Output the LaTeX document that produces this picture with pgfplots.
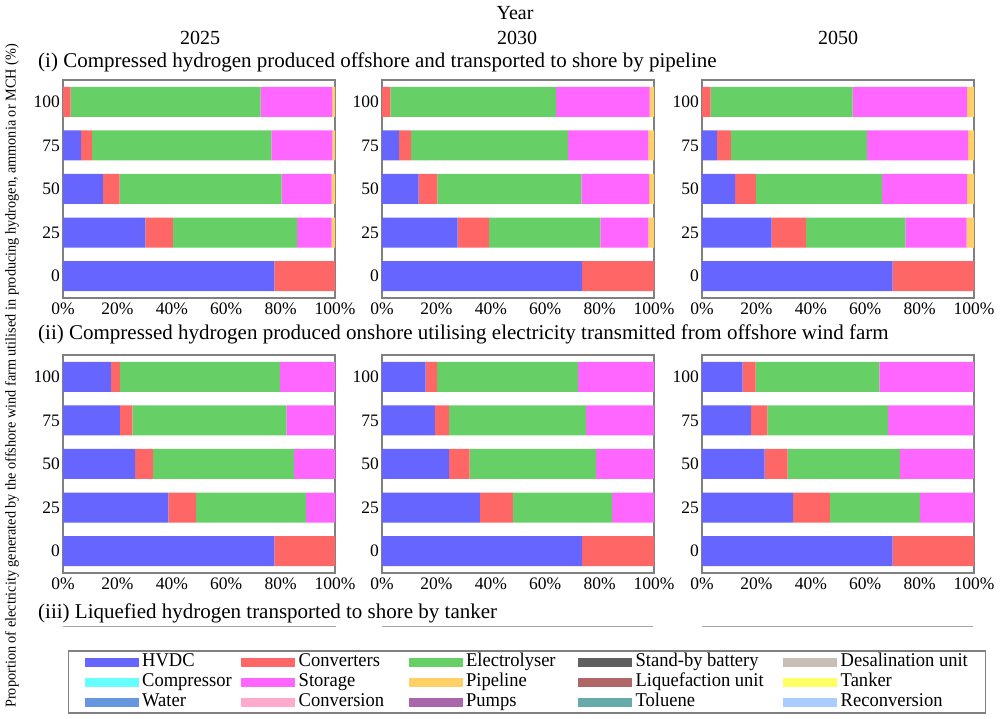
\documentclass[border=0pt]{standalone}
\usepackage{fontspec}
\setmainfont{Liberation Serif}
\newfontfamily\narrowfont[FakeStretch=0.95]{Liberation Serif}
\usepackage{pgfplots}
\usepackage{pgfplotstable}
\pgfplotsset{compat=1.18}

\definecolor{hvdc}{RGB}{102,102,255}
\definecolor{conv}{RGB}{255,102,102}
\definecolor{elec}{RGB}{102,208,102}
\definecolor{batt}{RGB}{96,96,96}
\definecolor{desal}{RGB}{200,190,184}
\definecolor{comp}{RGB}{102,255,255}
\definecolor{stor}{RGB}{255,102,255}
\definecolor{pipe}{RGB}{255,208,102}
\definecolor{liq}{RGB}{176,102,102}
\definecolor{tank}{RGB}{255,255,102}
\definecolor{water}{RGB}{102,150,221}
\definecolor{conversion}{RGB}{255,170,204}
\definecolor{pumps}{RGB}{170,102,170}
\definecolor{tol}{RGB}{102,170,170}
\definecolor{recon}{RGB}{170,204,255}
\definecolor{frame}{RGB}{128,128,128}

\newcommand\ticksize{\fontsize{17.5}{20}\selectfont}
\newcommand\ttlsize{\fontsize{21}{24}\selectfont}
\newcommand\yearsize{\fontsize{20}{22}\selectfont}
\newcommand\legsize{\narrowfont\fontsize{19.5}{20}\selectfont}
\newcommand\ylabsize{\narrowfont\fontsize{15}{16}\selectfont}

% columns: y (0=0%,1=25%,2=50%,3=75%,4=100%), HVDC, Converters, Electrolyser, Storage, Pipeline
\pgfplotstableread{
y H C E S P
0 77.7 22.3 0 0 0
1 30.3 10.1 45.7 12.7 1.2
2 14.7 6.1 59.6 18.4 1.2
3 6.7 4.0 65.9 22.4 1.0
4 0 2.8 69.9 26.3 1.0
}\Aone
\pgfplotstableread{
y H C E S P
0 73.6 26.4 0 0 0
1 27.8 11.6 40.9 17.6 2.1
2 13.5 6.9 52.9 24.9 1.8
3 6.2 4.5 57.6 29.6 2.1
4 0 3.1 60.9 34.4 1.6
}\Atwo
\pgfplotstableread{
y H C E S P
0 70.1 29.9 0 0 0
1 25.6 12.7 36.5 22.5 2.7
2 12.2 7.6 46.4 31.3 2.5
3 5.5 5.1 50.0 37.2 2.2
4 0 3.2 52.2 42.1 2.5
}\Athree
\pgfplotstableread{
y H C E S P
0 77.7 22.3 0 0 0
1 38.7 10.2 40.4 10.7 0
2 26.5 6.6 51.8 15.1 0
3 20.9 4.6 56.6 17.9 0
4 17.6 3.3 58.8 20.3 0
}\Bone
\pgfplotstableread{
y H C E S P
0 73.6 26.4 0 0 0
1 36.0 12.1 36.5 15.4 0
2 24.7 7.5 46.5 21.3 0
3 19.4 5.3 50.3 25.0 0
4 16.0 4.3 51.8 27.9 0
}\Btwo
\pgfplotstableread{
y H C E S P
0 70.1 29.9 0 0 0
1 33.5 13.5 33.1 19.9 0
2 23.0 8.5 41.2 27.3 0
3 18.0 6.0 44.4 31.6 0
4 14.9 4.8 45.5 34.8 0
}\Bthree

\pgfplotsset{
  panel/.style={
    xbar stacked, bar width=30pt,
    scale only axis, width=272pt, height=218pt,
    anchor=north west,
    xmin=0, xmax=100, ymin=-0.5, ymax=4.5,
    ytick={0,1,2,3,4}, yticklabels={0,25,50,75,100},
    xtick={0,20,40,60,80,100},
    xticklabels={0\%,20\%,40\%,60\%,80\%,100\%},
    major tick length=0pt,
    tick label style={font=\ticksize},
    yticklabel style={inner sep=3pt},
    xticklabel style={inner sep=2pt, yshift=-3pt},
    axis line style={draw=frame, line width=1.3pt},
    every axis plot/.append style={draw=none},
  },
}
\newcommand\bars[1]{%
  \addplot[fill=hvdc] table[x=H,y=y]{#1};
  \addplot[fill=conv] table[x=C,y=y]{#1};
  \addplot[fill=elec] table[x=E,y=y]{#1};
  \addplot[fill=stor] table[x=S,y=y]{#1};
  \addplot[fill=pipe] table[x=P,y=y]{#1};
}

\begin{document}
\begin{tikzpicture}
\useasboundingbox (0,0) rectangle (1006pt,-719pt);

\node[font=\yearsize] at (515pt,-13pt) {Year};
\node[font=\yearsize] at (200pt,-38pt) {2025};
\node[font=\yearsize] at (517pt,-38pt) {2030};
\node[font=\yearsize] at (838pt,-38pt) {2050};

\node[font=\ttlsize, anchor=west, inner sep=0pt] at (38pt,-62pt) {(i) Compressed hydrogen produced offshore and transported to shore by pipeline};
\node[font=\ttlsize, anchor=west, inner sep=0pt] at (38pt,-334pt) {(ii) Compressed hydrogen produced onshore utilising electricity transmitted from offshore wind farm};
\node[font=\ttlsize, anchor=west, inner sep=0pt] at (38pt,-613pt) {(iii) Liquefied hydrogen transported to shore by tanker};

\node[font=\ylabsize, rotate=90] at (12pt,-376pt) {Proportion of electricity generated by the offshore wind farm utilised in producing hydrogen, ammonia or MCH (\%)};

\begin{axis}[panel, at={(63pt,-80pt)}]
\bars{\Aone}
\end{axis}
\begin{axis}[panel, at={(382pt,-80pt)}]
\bars{\Atwo}
\end{axis}
\begin{axis}[panel, at={(702pt,-80pt)}]
\bars{\Athree}
\end{axis}
\begin{axis}[panel, at={(63pt,-355pt)}]
\bars{\Bone}
\end{axis}
\begin{axis}[panel, at={(382pt,-355pt)}]
\bars{\Btwo}
\end{axis}
\begin{axis}[panel, at={(702pt,-355pt)}]
\bars{\Bthree}
\end{axis}

\draw[frame!70, line width=1pt] (63pt,-626pt) -- (336pt,-626pt);
\draw[frame!70, line width=1pt] (382pt,-626pt) -- (653pt,-626pt);
\draw[frame!70, line width=1pt] (702pt,-626pt) -- (973pt,-626pt);

\begin{axis}[
  at={(527pt,-682pt)}, anchor=center,
  hide axis, scale only axis, width=10pt, height=10pt,
  xmin=0, xmax=1, ymin=0, ymax=1,
  legend columns=5,
  legend cell align=left,
  legend style={at={(0.5,0.5)}, anchor=center,
    draw=frame, line width=1.3pt, font=\legsize,
    inner xsep=16pt, inner ysep=1pt, row sep=0pt,
    nodes={inner sep=1.5pt, text height=13pt, text depth=4pt},
    /tikz/every odd column/.append style={column sep=2pt},
    /tikz/column 2/.style={column sep=8pt},
    /tikz/column 4/.style={column sep=23pt},
    /tikz/column 6/.style={column sep=21pt},
    /tikz/column 8/.style={column sep=18pt},
  },
  legend image code/.code={\fill[#1,draw=none] (0pt,-4.5pt) rectangle (54pt,4.5pt);},
]
\addlegendimage{fill=hvdc}\addlegendentry{HVDC}
\addlegendimage{fill=conv}\addlegendentry{Converters}
\addlegendimage{fill=elec}\addlegendentry{Electrolyser}
\addlegendimage{fill=batt}\addlegendentry{Stand-by battery}
\addlegendimage{fill=desal}\addlegendentry{Desalination unit}
\addlegendimage{fill=comp}\addlegendentry{Compressor}
\addlegendimage{fill=stor}\addlegendentry{Storage}
\addlegendimage{fill=pipe}\addlegendentry{Pipeline}
\addlegendimage{fill=liq}\addlegendentry{Liquefaction unit}
\addlegendimage{fill=tank}\addlegendentry{Tanker}
\addlegendimage{fill=water}\addlegendentry{Water}
\addlegendimage{fill=conversion}\addlegendentry{Conversion}
\addlegendimage{fill=pumps}\addlegendentry{Pumps}
\addlegendimage{fill=tol}\addlegendentry{Toluene}
\addlegendimage{fill=recon}\addlegendentry{Reconversion}
\end{axis}
\end{tikzpicture}
\end{document}
